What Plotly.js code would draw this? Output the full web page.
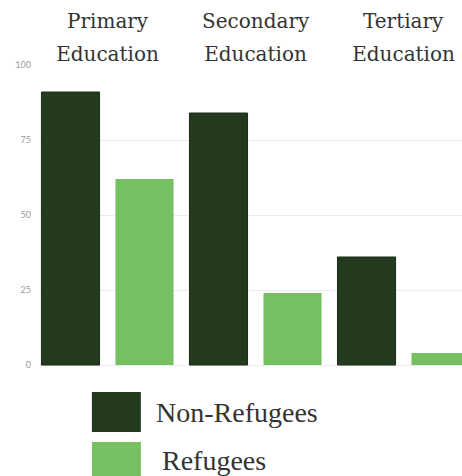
<!DOCTYPE html>
<html>
<head>
<meta charset="utf-8">
<script src="https://cdn.plot.ly/plotly-3.0.1.min.js"></script>
<style>html,body{margin:0;padding:0;background:#fff;}#chart{width:462px;height:476px;}</style>
</head>
<body>
<div id="chart"></div>
<script>
var categories = ["Primary", "Secondary", "Tertiary"];
var labelLine1 = ["Primary", "Secondary", "Tertiary"];
var labelLine2 = ["Education", "Education", "Education"];
var seriesNames = ["Non-Refugees", "Refugees"];
var nonRefugees = [91, 84, 36];
var refugees = [62, 24, 4];
var yTicks = [0, 25, 50, 75, 100];

var colors = ["#243a1e", "#77c062"];
var serif = "Liberation Serif, DejaVu Serif, serif";
var headFont = {family: "DejaVu Serif, serif", size: 20, color: "#333"};
var xRange = [-0.456, 2.395];

var traces = [
  {type: "bar", name: seriesNames[0], x: categories, y: nonRefugees,
   marker: {color: colors[0], line: {color: "#1a2a16", width: 1}}},
  {type: "bar", name: seriesNames[1], x: categories, y: refugees,
   marker: {color: colors[1]}}
];

// Custom large legend drawn as shapes + annotations (paper coords)
var shapes = [];
var annotations = [];
var legY = [[-0.038, -0.165], [-0.197, -0.32]];
var legTextY = [-0.102, -0.255];
var legTextX = [0.27, 0.285];
for (var i = 0; i < seriesNames.length; i++) {
  shapes.push({type: "rect", xref: "paper", yref: "paper",
    x0: 0.123, x1: 0.239, y0: legY[i][0], y1: legY[i][1],
    fillcolor: colors[i], line: {width: 0}});
  annotations.push({xref: "paper", yref: "paper", x: legTextX[i], y: legTextY[i],
    xanchor: "left", yanchor: "middle", showarrow: false, text: seriesNames[i],
    font: {family: serif, size: 28, color: "#333"}});
}
// First line of the category headings
for (var j = 0; j < categories.length; j++) {
  annotations.push({xref: "x", yref: "paper", x: categories[j], y: 1.14,
    xanchor: "center", yanchor: "middle", showarrow: false, text: labelLine1[j],
    font: headFont});
}

var layout = {
  width: 462, height: 476,
  margin: {l: 40, r: 0, t: 65, b: 96, pad: 0},
  paper_bgcolor: "#fff", plot_bgcolor: "#fff",
  barmode: "group", bargap: 0, bargroupgap: 0.215,
  showlegend: false,
  xaxis: {side: "top", type: "category", range: xRange,
    tickvals: categories, ticktext: labelLine2,
    showgrid: false, showline: false, zeroline: false, ticks: "",
    ticklabelstandoff: -1, tickfont: headFont},
  yaxis: {range: [-5, 100], tickvals: yTicks, showgrid: true,
    gridcolor: "#ececec", gridwidth: 1, zeroline: false, showline: false,
    ticks: "", ticklabelstandoff: 8,
    tickfont: {family: "Lato, sans-serif", size: 9, color: "#999"}},
  shapes: shapes,
  annotations: annotations
};

Plotly.newPlot("chart", traces, layout, {displayModeBar: false, staticPlot: true});
</script>
</body>
</html>
